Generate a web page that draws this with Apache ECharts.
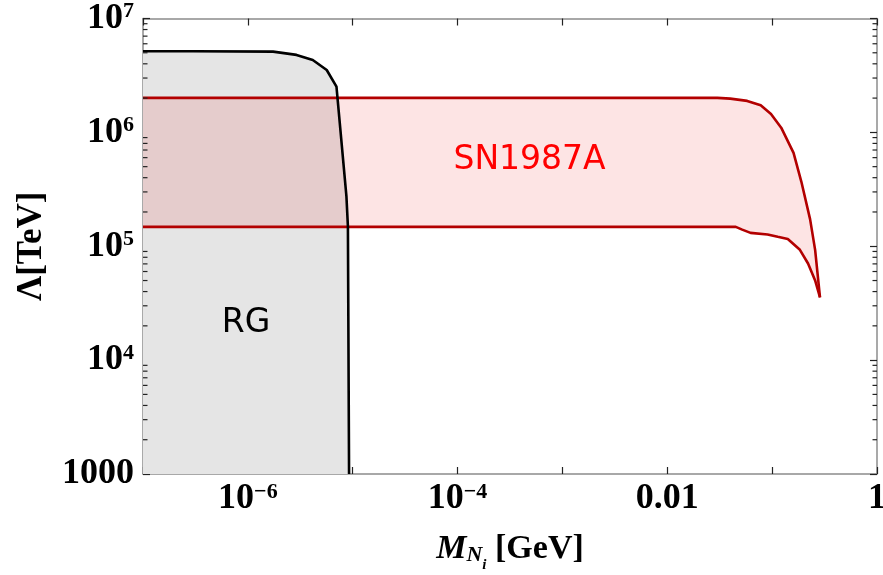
<!DOCTYPE html>
<html>
<head>
<meta charset="utf-8">
<script src="https://cdn.jsdelivr.net/npm/echarts@6/dist/echarts.min.js"></script>
<style>html,body{margin:0;padding:0;background:#fff}#c{width:883px;height:575px}</style>
</head>
<body>
<div id="c"></div>
<script>
// ---- data ----
const rgX = [1e-7, 3e-7, 1.74e-6, 2.91e-6, 4.16e-6, 5.65e-6, 7.0e-6, 8.71e-6, 9.0e-6, 9.23e-6];
const rgY = [5.15e6, 5.15e6, 5.12e6, 4.79e6, 4.32e6, 3.53e6, 2.52e6, 2.74e5, 1.49e5, 1000];

const snUpperX = [1e-7, 0.030, 0.0398, 0.0578, 0.0778, 0.0975, 0.122, 0.160, 0.190, 0.230, 0.257, 0.286];
const snUpperY = [2.01e6, 2.01e6, 1.98e6, 1.89e6, 1.73e6, 1.45e6, 1.10e6, 6.6e5, 3.68e5, 1.73e5, 9.3e4, 3.56e4];
const snLowerX = [1e-7, 0.045, 0.0518, 0.0622, 0.0904, 0.113, 0.141, 0.184, 0.220, 0.257, 0.286];
const snLowerY = [1.48e5, 1.48e5, 1.40e5, 1.31e5, 1.27e5, 1.21e5, 1.16e5, 9.3e4, 7.06e4, 5.01e4, 3.56e4];

const xMin = 1e-7, xMax = 1;
const yMin = 1000, yMax = 1e7;
const xTickLabels = {"-6": "10|−6", "-4": "10|−4", "-2": "0.01", "0": "1"};
const yTickLabels = {"3": "1000", "4": "10|4", "5": "10|5", "6": "10|6", "7": "10|7"};

const annotations = [
  {text: "SN1987A", x: 4.86e-4, y: 5.7e5, color: "#ff0000"},
  {text: "RG", x: 9.6e-7, y: 2.1e4, color: "#000000"}
];

// ---- helpers ----
const pairs = (xs, ys) => xs.map((x, i) => [x, ys[i]]);
const rgPts = pairs(rgX, rgY);
const snUp = pairs(snUpperX, snUpperY);
const snLo = pairs(snLowerX, snLowerY);
const rgPoly = rgPts.concat([[rgX[0], yMin]]);
const snPoly = snUp.concat(snLo.slice().reverse());

const serif = "'Liberation Serif', 'Times New Roman', serif";
const sans = "'DejaVu Sans', sans-serif";

function richFmt(map, v) {
  const e = String(Math.round(Math.log10(v)));
  const s = map[e];
  if (s === undefined) return '';
  if (s.indexOf('|') >= 0) {
    const p = s.split('|');
    return '{b|' + p[0] + '}{s|' + p[1] + '}';
  }
  return '{b|' + s + '}';
}
const richStyle = {
  b: {fontFamily: serif, fontWeight: 'bold', fontSize: 36, color: '#000'},
  s: {fontFamily: serif, fontWeight: 'bold', fontSize: 22, color: '#000', verticalAlign: 'top'}
};

// minor tick values on y (2..9 per decade) — axis decoration
const yMinor = [];
for (let d = 3; d < 7; d++) for (let k = 2; k <= 9; k++) yMinor.push(k * Math.pow(10, d));

function polyItem(pts, fill) {
  return function (params, api) {
    return {
      type: 'polygon',
      shape: {points: pts.map(p => api.coord(p))},
      style: {fill: fill, stroke: null}
    };
  };
}

const chart = echarts.init(document.getElementById('c'), null, {renderer: 'canvas'});
const axisLineStyle = {color: '#8c8c8c', width: 1.5};
const tickStyle = {color: '#222', width: 1.2};

chart.setOption({
  animation: false,
  backgroundColor: '#fff',
  grid: {left: 143, top: 18.5, right: 6, bottom: 101, containLabel: false, outerBoundsMode: 'none'},
  xAxis: [
    {
      type: 'log', logBase: 10, min: xMin, max: xMax, interval: 1, position: 'bottom',
      axisLine: {show: true, lineStyle: axisLineStyle},
      axisTick: {show: true, inside: true, length: 7, lineStyle: tickStyle},
      splitLine: {show: false},
      axisLabel: {margin: 7, formatter: v => richFmt(xTickLabels, v), rich: richStyle, showMinLabel: true, showMaxLabel: true, hideOverlap: false},
      name: '{m|M}{sub|N}{subi|i}{t| [GeV]}',
      nameLocation: 'middle', nameGap: 58,
      nameTextStyle: {
        rich: {
          m: {fontFamily: serif, fontWeight: 'bold', fontStyle: 'italic', fontSize: 34, color: '#000'},
          sub: {fontFamily: serif, fontWeight: 'bold', fontStyle: 'italic', fontSize: 22, color: '#000', verticalAlign: 'bottom'},
          subi: {fontFamily: serif, fontWeight: 'bold', fontStyle: 'italic', fontSize: 15, color: '#000', verticalAlign: 'bottom', padding: [0, 0, -7, 0]},
          t: {fontFamily: serif, fontWeight: 'bold', fontSize: 34, color: '#000'}
        }
      }
    },
    {
      type: 'log', logBase: 10, min: xMin, max: xMax, interval: 1, position: 'top',
      axisLine: {show: true, lineStyle: axisLineStyle},
      axisTick: {show: true, inside: true, length: 7, lineStyle: tickStyle},
      splitLine: {show: false}, axisLabel: {show: false}
    }
  ],
  yAxis: [
    {
      type: 'log', logBase: 10, min: yMin, max: yMax, interval: 1, position: 'left',
      axisLine: {show: true, lineStyle: axisLineStyle},
      axisTick: {show: true, inside: true, length: 7, lineStyle: tickStyle},
      splitLine: {show: false},
      axisLabel: {margin: 9, formatter: v => richFmt(yTickLabels, v), rich: richStyle, showMinLabel: true, showMaxLabel: true, hideOverlap: false},
      name: 'Λ[TeV]', nameLocation: 'middle', nameGap: 94, nameRotate: 90,
      nameTextStyle: {fontFamily: serif, fontWeight: 'bold', fontSize: 35, color: '#000'}
    },
    {
      type: 'log', logBase: 10, min: yMin, max: yMax, interval: 1, position: 'right',
      axisLine: {show: true, lineStyle: axisLineStyle},
      axisTick: {show: true, inside: true, length: 7, lineStyle: tickStyle},
      splitLine: {show: false}, axisLabel: {show: false}
    }
  ],
  series: [
    {type: 'custom', coordinateSystem: 'cartesian2d', data: [[rgX[0], rgY[0]]], renderItem: polyItem(rgPoly, '#e5e5e5'), z: 1, silent: true},
    {type: 'custom', coordinateSystem: 'cartesian2d', data: [[snUpperX[0], snUpperY[0]]], renderItem: polyItem(snPoly, 'rgba(235,0,0,0.105)'), z: 2, silent: true},
    {type: 'line', data: snUp, symbol: 'none', lineStyle: {color: '#b30000', width: 2.6}, z: 3, silent: true},
    {type: 'line', data: snLo, symbol: 'none', lineStyle: {color: '#b30000', width: 2.6}, z: 3, silent: true},
    {type: 'line', data: rgPts, symbol: 'none', lineStyle: {color: '#000', width: 2.6}, z: 4, silent: true},
    {
      type: 'custom', coordinateSystem: 'cartesian2d', silent: true, z: 5,
      data: yMinor.map(v => [xMin, v]),
      renderItem: function (params, api) {
        const p = api.coord([xMin, api.value(1)]);
        const q = api.coord([xMax, api.value(1)]);
        const st = {stroke: '#222', lineWidth: 1.2};
        return {type: 'group', children: [
          {type: 'line', shape: {x1: p[0], y1: p[1], x2: p[0] + 4.5, y2: p[1]}, style: st},
          {type: 'line', shape: {x1: q[0], y1: q[1], x2: q[0] - 4.5, y2: q[1]}, style: st}
        ]};
      }
    },
    {
      type: 'scatter', symbolSize: 0, silent: true, z: 6, itemStyle: {opacity: 1},
      data: annotations.map(a => ({value: [a.x, a.y], label: {show: true, position: 'inside', formatter: a.text, color: a.color, opacity: 1, fontFamily: sans, fontSize: 33}}))
    }
  ]
});
</script>
</body>
</html>
